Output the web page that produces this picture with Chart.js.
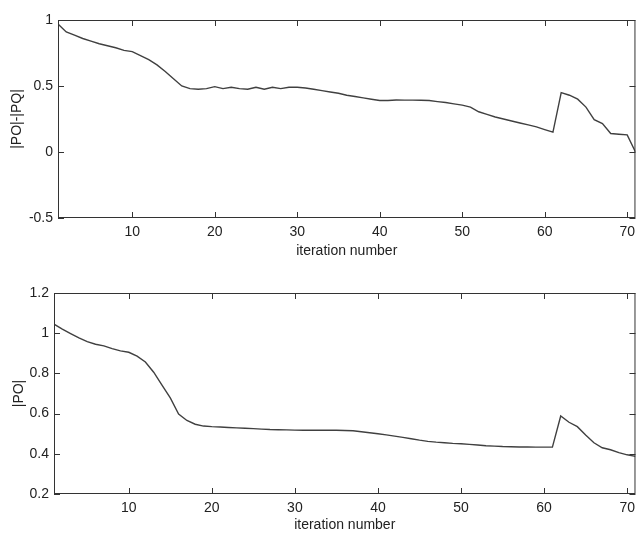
<!DOCTYPE html>
<html>
<head>
<meta charset="utf-8">
<script src="https://cdn.jsdelivr.net/npm/chart.js@4"></script>
<style>
  html, body { margin: 0; padding: 0; background: #fff; }
  body { width: 641px; height: 539px; position: relative; overflow: hidden; }
  canvas { position: absolute; left: 0; }
  #diffChart { top: 0; }
  #poChart { top: 270px; }
</style>
</head>
<body>
<canvas id="diffChart" width="641" height="270"></canvas>
<canvas id="poChart" width="641" height="269"></canvas>
<script>
const iterations = [1, 2, 3, 4, 5, 6, 7, 8, 9, 10, 11, 12, 13, 14, 15, 16, 17, 18, 19, 20,
  21, 22, 23, 24, 25, 26, 27, 28, 29, 30, 31, 32, 33, 34, 35, 36, 37, 38, 39, 40,
  41, 42, 43, 44, 45, 46, 47, 48, 49, 50, 51, 52, 53, 54, 55, 56, 57, 58, 59, 60,
  61, 62, 63, 64, 65, 66, 67, 68, 69, 70, 71];

// |PO|-|PQ|
const diffValues = [0.97, 0.91, 0.885, 0.86, 0.84, 0.82, 0.805, 0.79, 0.77, 0.76,
  0.73, 0.70, 0.66, 0.61, 0.555, 0.50, 0.48, 0.475, 0.48, 0.495,
  0.48, 0.49, 0.48, 0.475, 0.49, 0.475, 0.49, 0.48, 0.49, 0.49,
  0.485, 0.475, 0.465, 0.455, 0.445, 0.43, 0.42, 0.41, 0.40, 0.39,
  0.39, 0.394, 0.393, 0.393, 0.392, 0.39, 0.382, 0.375, 0.365, 0.355,
  0.34, 0.305, 0.285, 0.265, 0.25, 0.235, 0.22, 0.205, 0.19, 0.17,
  0.15, 0.45, 0.43, 0.40, 0.34, 0.245, 0.215, 0.14, 0.135, 0.13, 0.0];

// |PO|
const poValues = [1.045, 1.02, 0.998, 0.977, 0.958, 0.945, 0.937, 0.923, 0.912, 0.905,
  0.886, 0.857, 0.806, 0.742, 0.678, 0.598, 0.566, 0.547, 0.538, 0.535,
  0.533, 0.531, 0.529, 0.527, 0.525, 0.523, 0.521, 0.52, 0.519, 0.518,
  0.517, 0.517, 0.517, 0.517, 0.517, 0.516, 0.515, 0.51, 0.505, 0.50,
  0.494, 0.488, 0.482, 0.475, 0.468, 0.462, 0.458, 0.455, 0.452, 0.45,
  0.447, 0.444, 0.44, 0.438, 0.436, 0.435, 0.434, 0.434, 0.433, 0.433,
  0.433, 0.588, 0.557, 0.535, 0.493, 0.455, 0.43, 0.42, 0.406, 0.395, 0.387];

const xTicks = [10, 20, 30, 40, 50, 60, 70];
const diffTicks = [-0.5, 0, 0.5, 1];
const poTicks = [0.2, 0.4, 0.6, 0.8, 1, 1.2];

Chart.defaults.font.family = 'Arial, "Liberation Sans", sans-serif';
Chart.defaults.font.size = 14;
Chart.defaults.color = '#222';

// matlab style box with inward ticks
const boxPlugin = {
  id: 'box',
  afterDatasetsDraw(chart) {
    const { ctx, chartArea: a, scales } = chart;
    ctx.save();
    ctx.strokeStyle = '#333';
    ctx.lineWidth = 1;
    ctx.strokeRect(a.left + 0.5, a.top + 0.5, a.right - a.left - 1, a.bottom - a.top - 1);
    ctx.beginPath();
    scales.x.ticks.forEach(t => {
      const px = Math.round(scales.x.getPixelForValue(t.value)) + 0.5;
      ctx.moveTo(px, a.bottom); ctx.lineTo(px, a.bottom - 6);
      ctx.moveTo(px, a.top); ctx.lineTo(px, a.top + 6);
    });
    scales.y.ticks.forEach(t => {
      const py = Math.round(scales.y.getPixelForValue(t.value)) + 0.5;
      ctx.moveTo(a.left, py); ctx.lineTo(a.left + 6, py);
      ctx.moveTo(a.right, py); ctx.lineTo(a.right - 6, py);
    });
    ctx.stroke();
    ctx.restore();
  }
};

function makeChart(id, values, yTicks, yTitle, box) {
  return new Chart(document.getElementById(id), {
    type: 'line',
    data: {
      labels: iterations,
      datasets: [{
        data: iterations.map((x, i) => ({ x: x, y: values[i] })),
        borderColor: '#404040',
        borderWidth: 1.4,
        pointRadius: 0,
        tension: 0,
        fill: false
      }]
    },
    options: {
      responsive: false,
      animation: false,
      layout: { padding: { top: box.top, right: box.right, left: 0, bottom: 0 } },
      plugins: { legend: { display: false }, tooltip: { enabled: false } },
      scales: {
        x: {
          type: 'linear',
          min: 1,
          max: 71,
          grid: { display: false, drawTicks: false },
          border: { display: false },
          afterBuildTicks: s => { s.ticks = xTicks.map(v => ({ value: v })); },
          afterFit: s => { s.height = box.xHeight; },
          ticks: { padding: 6, maxRotation: 0, autoSkip: false },
          title: { display: true, text: 'iteration number', padding: { top: 0, bottom: box.xTitlePad } }
        },
        y: {
          min: yTicks[0],
          max: yTicks[yTicks.length - 1],
          grid: { display: false, drawTicks: false },
          border: { display: false },
          afterBuildTicks: s => { s.ticks = yTicks.map(v => ({ value: v })); },
          afterFit: s => { s.width = box.yWidth; },
          ticks: { padding: 5, callback: v => String(v) },
          title: { display: true, text: yTitle, padding: { top: box.yTitlePad, bottom: 0 } }
        }
      }
    },
    plugins: [boxPlugin]
  });
}

makeChart('diffChart', diffValues, diffTicks, '|PO|-|PQ|',
  { top: 20, right: 1, xHeight: 52, yWidth: 58, xTitlePad: 10, yTitlePad: 9 });
makeChart('poChart', poValues, poTicks, '|PO|',
  { top: 23, right: 3, xHeight: 45, yWidth: 54, xTitlePad: 5, yTitlePad: 11 });
</script>
</body>
</html>
